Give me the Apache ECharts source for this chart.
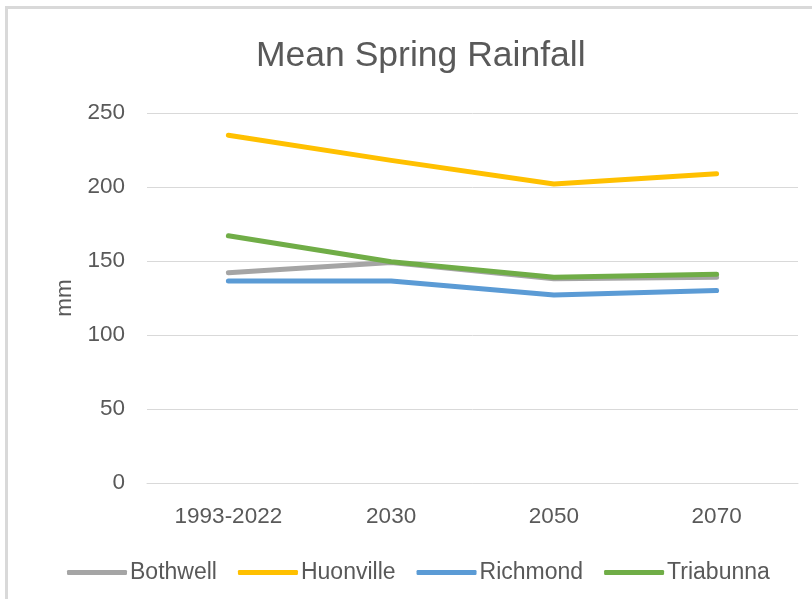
<!DOCTYPE html>
<html>
<head>
<meta charset="utf-8">
<script src="https://cdn.jsdelivr.net/npm/echarts@6/dist/echarts.min.js"></script>
<style>
html,body{margin:0;padding:0;background:#fff;overflow:hidden;}
#frame{position:absolute;left:5px;top:6px;width:900px;height:700px;border-left:3px solid #d9d9d9;border-top:3px solid #d9d9d9;}
#chart{position:absolute;left:0;top:0;width:812px;height:599px;}
</style>
</head>
<body>
<div id="frame"></div>
<div id="chart"></div>
<script>
const categories = ['1993-2022', '2030', '2050', '2070'];
const bothwell   = [142, 149, 138, 139];
const huonville  = [235, 218, 202, 209];
const richmond   = [136.5, 136.5, 127, 130];
const triabunna  = [167, 149.5, 139, 141];
const yTicks = { min: 0, max: 250, interval: 50 };

const FONT = 'Liberation Sans';
const TXT = '#595959';

function lineSeries(name, data, color) {
  return {
    name: name, type: 'line', data: data, symbol: 'none',
    lineStyle: { color: color, width: 5, cap: 'round', join: 'round' },
    itemStyle: { color: color }
  };
}

const chart = echarts.init(document.getElementById('chart'), null, { renderer: 'canvas' });
chart.setOption({
  backgroundColor: 'transparent',
  animation: false,
  title: {
    text: 'Mean Spring Rainfall', left: 251, top: 33,
    textStyle: { fontFamily: FONT, fontSize: 35.5, fontWeight: 'normal', color: TXT }
  },
  grid: { left: 147, right: 14, top: 113, bottom: 116, containLabel: false },
  legend: {
    left: 62, top: 556, itemWidth: 60, itemHeight: 5, itemGap: 21,
    icon: 'roundRect',
    textStyle: { fontFamily: FONT, fontSize: 23, color: TXT, padding: [0, 0, 0, -2] },
    data: ['Bothwell', 'Huonville', 'Richmond', 'Triabunna']
  },
  xAxis: {
    type: 'category', data: categories, boundaryGap: true,
    axisLine: { lineStyle: { color: '#d9d9d9', width: 1 } },
    axisTick: { show: false },
    axisLabel: { fontFamily: FONT, fontSize: 22.5, color: TXT, margin: 22 }
  },
  yAxis: {
    type: 'value', min: yTicks.min, max: yTicks.max, interval: yTicks.interval,
    name: 'mm', nameLocation: 'middle', nameGap: 71, nameRotate: 90,
    nameTextStyle: { fontFamily: FONT, fontSize: 22.5, color: TXT },
    axisLine: { show: false }, axisTick: { show: false },
    axisLabel: { fontFamily: FONT, fontSize: 22.5, color: TXT, margin: 22 },
    splitLine: { lineStyle: { color: '#d9d9d9', width: 1 } }
  },
  series: [
    lineSeries('Bothwell', bothwell, '#a5a5a5'),
    lineSeries('Huonville', huonville, '#ffc000'),
    lineSeries('Richmond', richmond, '#5b9bd5'),
    lineSeries('Triabunna', triabunna, '#70ad47')
  ]
});
</script>
</body>
</html>
